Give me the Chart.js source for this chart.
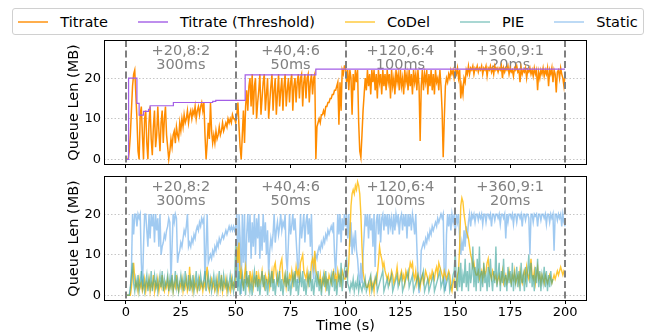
<!DOCTYPE html>
<html>
<head>
<meta charset="utf-8">
<script src="https://cdn.jsdelivr.net/npm/chart.js@4.4.0/dist/chart.umd.min.js"></script>
<style>
  html, body { margin: 0; padding: 0; background: #fff; }
  body { width: 649px; height: 335px; position: relative; overflow: hidden; font-family: 'DejaVu Sans', sans-serif; }
  #topBox { position: absolute; left: 0; top: 0; }
  #bottomBox { position: absolute; left: 0; top: 170px; }
  #legend { position: absolute; left: 12px; top: 8px; width: 632px; height: 27px; box-sizing: border-box;
            border: 1px solid #d0d0d0; border-radius: 3px; background: #fff; z-index: 2;
            display: flex; align-items: center; justify-content: center; font-size: 14.5px; color: #000; }
  .item { display: flex; align-items: center; margin-left: 30px; white-space: nowrap; }
  .item:first-child { margin-left: 0; }
  .swatch { width: 30px; height: 2px; margin-right: 12px; opacity: 0.7; }
</style>
</head>
<body>
<div id="legend"></div>
<div id="topBox"><canvas id="topChart" width="649" height="170"></canvas></div>
<div id="bottomBox"><canvas id="bottomChart" width="649" height="165"></canvas></div>
<script>
const FONT = "'DejaVu Sans', sans-serif";
const sampleStep = 0.5; // seconds between samples

const seriesLabels = ['Titrate', 'Titrate (Threshold)', 'CoDel', 'PIE', 'Static'];
const xTicks = [0, 25, 50, 75, 100, 125, 150, 175, 200];
const yTicks = [0, 10, 20];
const phaseBounds = [0, 50, 100, 150, 200];
const phaseLoad = ['+20,8:2', '+40,4:6', '+120,6:4', '+360,9:1'];
const phaseDelay = ['300ms', '50ms', '100ms', '20ms'];

// threshold is a step function: value holds from its time until the next one
const thresholdTimes = [0, 1.2, 5, 6, 8, 10.3, 11, 21.6, 39.5, 40.9, 54.3, 86.5, 200];
const thresholdValues = [0, 20, 13.8, 10.9, 11.8, 12.3, 13.2, 14, 14.3, 14.5, 20.8, 22.2, 22.2];

// queue length (MB), one sample every 0.5 s from t = 0
const titrateQueue = [
  0, 0, 0, 2, 6, 12, 18, 21, 22, 16, 10, 2, 0, 11, 13, 6, 0, 10, 12, 4,
  0, 9, 13, 5, 1, 8, 12, 3, 6, 13, 7, 2, 9, 12, 4, 10, 13, 6, 3, 0,
  2, 5, 3, 6, 7, 4, 8, 6, 5, 9, 7, 10, 8, 11, 9, 10, 12, 9, 11, 12,
  10, 12, 11, 13, 10, 12, 13, 11, 13, 14, 12, 14, 6, 0, 4, 9, 5, 14, 7, 4,
  6, 4, 7, 5, 6, 8, 6, 7, 9, 7, 8, 9, 8, 10, 9, 10, 9, 11, 10, 10,
  9, 11, 14, 8, 3, 0, 6, 12, 4, 13, 17, 12, 18, 20, 13, 21, 11, 18, 20, 10,
  14, 17, 21, 11, 15, 19, 21, 12, 16, 20, 10, 14, 18, 21, 12, 17, 20, 11, 16, 21,
  13, 17, 20, 12, 18, 21, 13, 17, 20, 14, 19, 21, 12, 18, 20, 14, 19, 21, 15, 20,
  21, 13, 19, 21, 15, 20, 21, 14, 19, 21, 16, 20, 21, 0, 8, 9, 10, 9, 11, 11,
  12, 11, 13, 13, 14, 14, 15, 15, 16, 16, 17, 17, 18, 19, 8.5, 19, 12, 22, 21, 23,
  23, 19, 22, 17, 22, 20, 11, 21, 17, 22, 19, 22, 9, 2, 0.5, 6, 12, 16, 20, 17,
  22, 18, 21, 16, 22, 19, 22, 17, 21, 15, 22, 19, 21, 16, 22, 18, 21, 17, 22, 19,
  21, 15, 22, 18, 20, 16, 22, 19, 21, 17, 22, 18, 20, 16, 22, 19, 21, 17, 22, 18,
  21, 16, 22, 19, 21, 17, 22, 18, 4.5, 18, 22, 17, 21, 19, 22, 16, 21, 18, 22, 17,
  21, 16, 22, 19, 20, 17, 22, 18, 12, 0.5, 10, 18, 20, 19, 21, 20, 22, 21, 22, 20,
  22, 21, 22.5, 20, 22, 15, 18, 16, 20, 19, 22, 21, 23, 21, 22.5, 22, 23, 21, 22.5, 22,
  23, 21.5, 22.5, 22, 23, 21, 22.5, 22, 23, 20.5, 22.5, 22, 23, 21.5, 22.5, 21, 23, 22, 22.5, 21.5,
  22.5, 22, 23, 20, 22.5, 21.5, 22.5, 22, 23, 21, 22.5, 21.5, 22, 20.5, 22.5, 22, 23, 21.5, 22, 19,
  22.5, 21, 22, 21.5, 22.5, 20, 22, 21.5, 22.5, 21, 22, 20.5, 22.5, 21, 22, 17, 21.5, 20, 22, 21,
  22.5, 20.5, 22, 21, 22.5, 18, 22, 21, 22.5, 19, 22, 21, 16.5, 21.5, 22, 20, 22.5, 21, 20, 18,
  21
];

const codelQueue = [
  0, 0, 0, 0, 0, 2, 5, 8, 4, 2, 3, 1, 4, 2, 3, 1, 2, 4, 1, 3,
  2, 4, 1, 3, 2, 5, 1, 3, 2, 4, 1, 3, 2, 5, 2, 1, 3, 2, 4, 1,
  3, 2, 4, 1, 3, 2, 5, 2, 1, 3, 2, 4, 1, 3, 2, 4, 1, 2, 7, 2,
  3, 1, 4, 2, 3, 1, 2, 4, 2, 3, 1, 3, 2, 5, 7, 2, 1, 3, 4, 2,
  3, 1, 2, 4, 1, 3, 2, 5, 1, 3, 2, 4, 1, 3, 2, 1, 4, 2, 3, 2,
  5, 12, 8, 13, 4, 6, 3, 2, 5, 7, 3, 4, 2, 6, 3, 5, 2, 4, 3, 6,
  2, 5, 3, 4, 6, 3, 2, 5, 4, 3, 5, 2, 4, 6, 3, 7, 8, 5, 3, 4,
  6, 8, 9, 4, 3, 5, 2, 4, 3, 5, 4, 6, 3, 5, 4, 7, 5, 6, 4, 8,
  9, 10, 6, 5, 4, 6, 3, 5, 4, 8, 9, 7, 11, 6, 5, 4, 3, 5, 2, 4,
  3, 5, 2, 4, 3, 5, 4, 3, 5, 6, 4, 5, 3, 6, 4, 5, 3, 6, 5, 4,
  4, 6, 5, 8, 15, 22, 25, 26, 25, 27, 26, 28, 27, 25, 20, 12, 6, 4, 3, 2,
  2, 3, 1, 4, 2, 3, 1, 4, 3, 5, 8, 12, 10, 9, 7, 8, 6, 5, 4, 5,
  3, 4, 6, 5, 3, 4, 5, 7, 4, 3, 5, 6, 4, 5, 3, 6, 5, 4, 6, 8,
  7, 8, 5, 4, 6, 3, 5, 4, 2, 4, 5, 3, 4, 6, 5, 4, 3, 5, 4, 6,
  5, 4, 6, 7, 5, 8, 7, 6, 5, 4, 6, 5, 4, 5, 6, 5, 2, 1, 3, 4,
  3, 2, 5, 6, 12, 22, 24, 23, 20, 18, 16, 15, 14, 12, 10, 9, 7, 8, 6, 5,
  5, 6, 4, 5, 6, 4, 7, 5, 6, 8, 9, 6, 5, 4, 6, 5, 4, 5, 3, 4,
  5, 3, 4, 6, 3, 4, 5, 3, 4, 6, 4, 3, 5, 4, 6, 3, 4, 5, 3, 6,
  4, 3, 5, 6, 4, 7, 5, 4, 6, 9, 5, 4, 6, 3, 5, 7, 4, 5, 3, 5,
  4, 3, 5, 4, 3, 4, 5, 4, 3, 4, 5, 4, 5, 6, 5, 6, 7, 6, 5, 6,
  5.5
];

const pieQueue = [
  0, 0, 0, 0, 2, 5, 8, 3, 1, 4, 2, 5, 1, 3, 6, 2, 4, 1, 3, 5,
  1, 4, 2, 6, 1, 3, 5, 2, 4, 1, 3, 5, 2, 6, 1, 4, 2, 3, 5, 1,
  4, 2, 5, 1, 3, 6, 2, 4, 1, 3, 5, 2, 4, 1, 6, 3, 2, 5, 1, 4,
  2, 5, 1, 3, 6, 2, 4, 1, 5, 3, 2, 4, 6, 1, 3, 5, 2, 4, 1, 3,
  5, 2, 4, 1, 3, 6, 2, 4, 1, 5, 3, 2, 4, 1, 3, 5, 2, 4, 1, 3,
  13, 4, 1, 6, 0, 3, 5, 1, 4, 0, 6, 2, 5, 1, 3, 0, 4, 6, 2, 5,
  1, 4, 0, 3, 6, 2, 5, 1, 4, 0, 3, 5, 2, 6, 1, 4, 0, 3, 5, 2,
  6, 1, 4, 0, 3, 5, 2, 6, 1, 4, 0, 3, 5, 2, 6, 1, 4, 0, 3, 5,
  2, 6, 1, 4, 0, 3, 5, 2, 6, 1, 4, 0, 3, 5, 2, 6, 1, 4, 0, 3,
  5, 2, 6, 1, 4, 0, 3, 5, 2, 6, 1, 4, 0, 3, 5, 2, 8, 1, 4, 6,
  8, 9, 3, 2, 1, 3, 2, 4, 1, 3, 2, 4, 1, 3, 2, 1, 3, 2, 4, 1,
  2, 3, 4, 5, 1, 2, 3, 4, 5, 1, 2, 3, 4, 5, 6, 1, 2, 3, 4, 2,
  3, 4, 5, 1, 2, 3, 4, 5, 2, 3, 4, 5, 1, 2, 3, 4, 5, 6, 2, 3,
  4, 5, 1, 2, 3, 4, 5, 2, 3, 4, 5, 6, 1, 2, 3, 4, 1, 2, 3, 4,
  5, 1, 2, 3, 4, 5, 6, 2, 3, 4, 1, 2, 3, 4, 5, 1, 2, 3, 5, 6,
  11, 3, 1, 7, 2, 8, 1, 5, 3, 9, 2, 6, 1, 8, 3, 5, 12, 2, 7, 1,
  9, 3, 12, 1, 6, 2, 8, 3, 5, 1, 7, 2, 9, 4, 1, 6, 3, 12, 2, 5,
  8, 1, 6, 3, 9, 2, 5, 1, 7, 3, 6, 2, 8, 1, 5, 3, 7, 2, 6, 1,
  8, 3, 5, 1, 7, 2, 6, 10, 3, 8, 2, 5, 1, 7, 3, 9, 2, 6, 1, 5,
  3, 7, 2, 6, 1, 5, 2, 6, 3, 4
];

const staticQueue = [
  0, 0, 0, 0, 0.5, 6, 20, 15, 20, 20, 17, 20, 19, 20, 8, 1.5, 12, 20, 20, 16,
  12, 20, 14, 20, 17, 20, 13, 20, 16, 19, 12, 20, 10, 12, 13, 15, 14, 16, 17, 19,
  18, 3, 12, 20, 18, 20, 19, 8, 10, 11, 13, 12, 14, 16, 15, 17, 20, 12, 13, 12,
  14, 13, 15, 14, 16, 17, 16, 18, 17, 19, 18, 19, 3, 12, 20, 8, 9, 10, 9, 11,
  10, 12, 11, 13, 12, 14, 13, 14, 15, 14, 15, 16, 15, 16, 17, 16, 17, 16, 17, 16,
  17, 20, 2, 20, 14, 0.3, 20, 8, 20, 3, 15, 20, 13, 20, 9, 18, 12, 20, 10, 19,
  14, 20, 9, 17, 11, 20, 13, 18, 10, 16, 5, 11, 14, 12, 15, 20, 13, 16, 18, 15,
  17, 20, 16, 18, 17, 20, 9, 6, 13, 20, 15, 17, 20, 16, 19, 14, 9, 3, 12, 20,
  14, 17, 20, 13, 18, 20, 15, 19, 12, 20, 7, 4, 9, 10, 9, 11, 12, 11, 13, 12,
  14, 13, 15, 14, 16, 15, 16, 17, 16, 18, 10, 5, 12, 20, 15, 20, 13, 19, 16, 20,
  17, 20, 14, 20, 12, 18, 10, 14, 12, 16, 11, 9, 5, 2.5, 8, 3, 10, 15, 20, 17,
  20, 14, 20, 16, 19, 12, 20, 7, 18, 20, 15, 20, 13, 19, 20, 16, 20, 17, 20, 15,
  20, 17, 19, 15, 20, 16, 20, 18, 20, 15, 19, 20, 16, 20, 17, 20, 14, 20, 17, 20,
  16, 20, 18, 15, 20, 12, 5, 0.5, 3, 11, 12, 13, 12, 14, 13, 15, 14, 16, 15, 17,
  16, 17, 18, 17, 19, 18, 19, 20, 19, 20, 4, 1, 15, 20, 17, 20, 16, 20, 18, 20,
  15, 20, 18, 20, 14, 10, 13, 11, 16, 12, 17, 14, 18, 20, 17, 20, 19, 20, 18, 20,
  20, 18.5, 20, 19, 20, 17.5, 20, 20, 18, 20, 20, 19, 20, 17, 20, 20, 18.5, 20, 20, 19,
  20, 17.5, 20, 20, 19, 20, 14, 20, 18, 20, 20, 19, 20, 17.5, 20, 20, 18, 20, 20, 19,
  20, 17, 20, 20, 18.5, 20, 20, 19, 10, 20, 20, 18, 20, 19.5, 20, 17, 20, 20, 18.5, 20,
  20, 19, 20, 17.5, 20, 20, 18, 20, 19, 20, 11, 20, 20, 18.5, 20, 19, 20, 17, 20, 18,
  17
];

const seriesColors = ['#ff8c00', '#a35ee6', 'rgba(255,185,0,0.8)', 'rgba(50,160,150,0.6)', 'rgba(120,180,235,0.7)'];

function toPoints(values) {
  return values.map((v, i) => ({ x: i * sampleStep, y: v }));
}

// phase separators, phase captions and the full box frame
const phasePlugin = {
  id: 'phases',
  beforeDatasetsDraw(chart) {
    const { ctx, scales: { x, y } } = chart;
    ctx.save();
    ctx.fillStyle = '#808080';
    ctx.font = "14.5px 'DejaVu Sans'";
    ctx.textAlign = 'center';
    ctx.textBaseline = 'middle';
    for (let i = 0; i < phaseLoad.length; i++) {
      const cx = x.getPixelForValue((phaseBounds[i] + phaseBounds[i + 1]) / 2);
      ctx.fillText(phaseLoad[i], cx, y.getPixelForValue(26.7));
      ctx.fillText(phaseDelay[i], cx, y.getPixelForValue(23.1));
    }
    ctx.restore();
  },
  afterDatasetsDraw(chart) {
    const { ctx, chartArea: a, scales: { x } } = chart;
    ctx.save();
    ctx.strokeStyle = '#808080';
    ctx.lineWidth = 2;
    ctx.setLineDash([7, 3.5]);
    phaseBounds.forEach(b => {
      const px = Math.round(x.getPixelForValue(b));
      ctx.beginPath();
      ctx.moveTo(px, a.top);
      ctx.lineTo(px, a.bottom);
      ctx.stroke();
    });
    ctx.restore();
  },
  afterDraw(chart) {
    const { ctx, chartArea: a } = chart;
    ctx.save();
    ctx.strokeStyle = '#000';
    ctx.lineWidth = 1;
    const l = Math.round(a.left) + 0.5, t = Math.round(a.top) + 0.5;
    const r = Math.round(a.right) - 0.5, b = Math.round(a.bottom) - 0.5;
    ctx.strokeRect(l, t, r - l, b - t);
    ctx.restore();
  }
};

function makeChart(canvasId, datasets, bottomAxis, padTop) {
  return new Chart(document.getElementById(canvasId), {
    type: 'line',
    data: { datasets: datasets },
    options: {
      responsive: false,
      animation: false,
      layout: { padding: { left: 66, right: 62, top: padTop, bottom: 0 } },
      elements: { point: { radius: 0 }, line: { tension: 0 } },
      plugins: { legend: { display: false }, tooltip: { enabled: false } },
      scales: {
        x: {
          type: 'linear',
          min: -10,
          max: 210,
          afterBuildTicks: s => { s.ticks = xTicks.map(v => ({ value: v })); },
          afterFit: s => {
            s.height = bottomAxis ? 34 : 5;
            s.paddingLeft = 0;
            s.paddingRight = 0;
          },
          grid: { drawOnChartArea: false, drawTicks: true, tickLength: 3, tickColor: '#000', color: '#000' },
          border: { display: false },
          ticks: { display: bottomAxis, color: '#000', font: { family: FONT, size: 13 }, padding: 1,
                   maxRotation: 0, autoSkip: false, callback: v => String(v) },
          title: { display: bottomAxis, text: 'Time (s)', color: '#000',
                   font: { family: FONT, size: 14.5 }, padding: 0 }
        },
        y: {
          min: -1.4,
          max: 29.4,
          afterBuildTicks: s => { s.ticks = yTicks.map(v => ({ value: v })); },
          afterFit: s => {
            s.width = 38;
            s.paddingTop = 0;
            s.paddingBottom = 0;
          },
          grid: { color: '#b8b8b8', lineWidth: 0.8, drawTicks: false },
          border: { display: false, dash: [1.5, 2] },
          ticks: { color: '#000', font: { family: FONT, size: 13 }, padding: 3 },
          title: { display: true, text: 'Queue Len (MB)', color: '#000',
                   font: { family: FONT, size: 14.5 }, padding: 0 }
        }
      }
    },
    plugins: [phasePlugin]
  });
}

const topDatasets = [
  { label: seriesLabels[0], data: toPoints(titrateQueue), borderColor: seriesColors[0], borderWidth: 1.5, order: 1 },
  { label: seriesLabels[1], data: thresholdTimes.map((t, i) => ({ x: t, y: thresholdValues[i] })),
    borderColor: seriesColors[1], borderWidth: 1.2, stepped: true, order: 0 }
];

const bottomDatasets = [
  { label: seriesLabels[2], data: toPoints(codelQueue), borderColor: seriesColors[2], borderWidth: 1.4, order: 1 },
  { label: seriesLabels[3], data: toPoints(pieQueue), borderColor: seriesColors[3], borderWidth: 1.4, order: 0 },
  { label: seriesLabels[4], data: toPoints(staticQueue), borderColor: seriesColors[4], borderWidth: 1.5, order: 2 }
];

makeChart('topChart', topDatasets, false, 40);
makeChart('bottomChart', bottomDatasets, true, 6);

// shared legend above both panels
const legendEl = document.getElementById('legend');
seriesLabels.forEach((name, i) => {
  const item = document.createElement('div');
  item.className = 'item';
  const sw = document.createElement('span');
  sw.className = 'swatch';
  sw.style.background = seriesColors[i];
  const txt = document.createElement('span');
  txt.textContent = name;
  item.appendChild(sw);
  item.appendChild(txt);
  legendEl.appendChild(item);
});
</script>
</body>
</html>
